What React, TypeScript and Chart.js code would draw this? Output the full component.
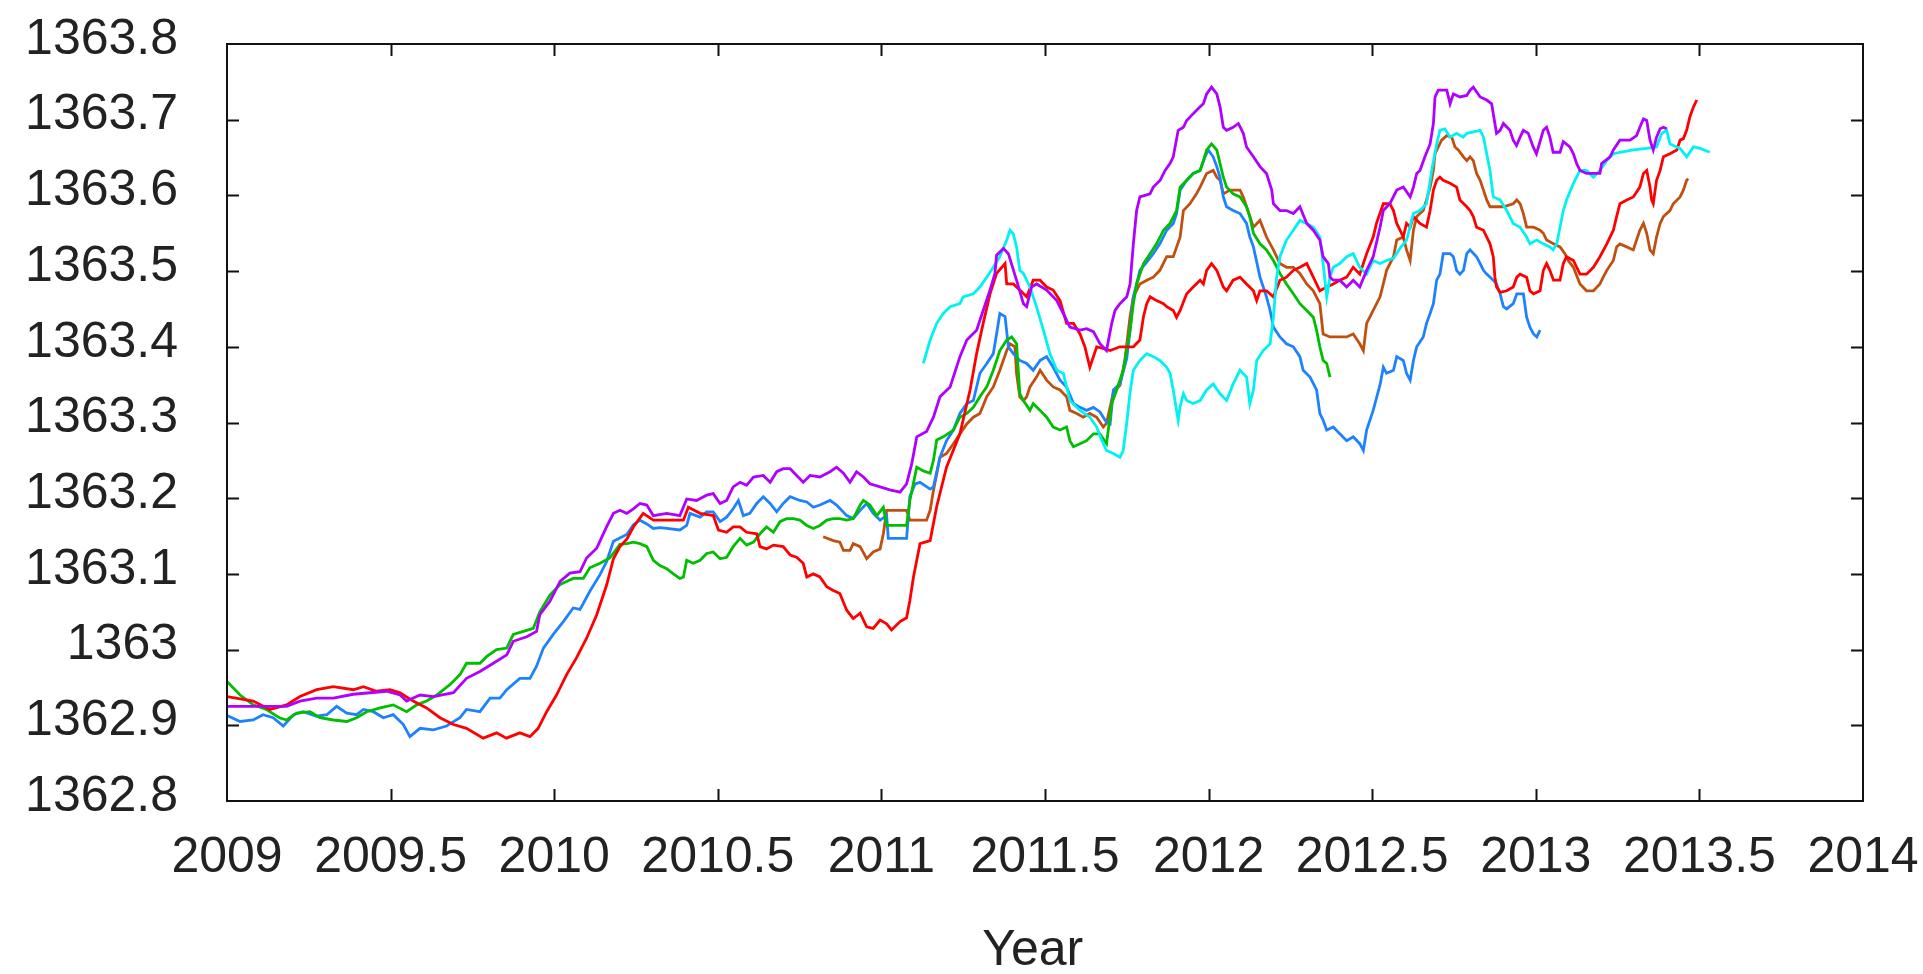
import React, { useEffect, useRef } from "react";
import { Chart, registerables } from "chart.js";

Chart.register(...registerables);

// [year, value] pairs for each series
const purple: [number, number][] = [
  [2009.0, 1362.925], [2009.08, 1362.925], [2009.182, 1362.925], [2009.223, 1362.932], [2009.274, 1362.936], [2009.325, 1362.936], [2009.386, 1362.941], [2009.437, 1362.943], [2009.488, 1362.945], [2009.529, 1362.94], [2009.549, 1362.932], [2009.569, 1362.936], [2009.59, 1362.94], [2009.631, 1362.938], [2009.692, 1362.943], [2009.732, 1362.962], [2009.773, 1362.971], [2009.814, 1362.982], [2009.855, 1362.993], [2009.875, 1363.011], [2009.916, 1363.017], [2009.946, 1363.024], [2009.956, 1363.046], [2009.987, 1363.064], [2010.018, 1363.09], [2010.048, 1363.101], [2010.079, 1363.103], [2010.099, 1363.121], [2010.13, 1363.134],
  [2010.16, 1363.162], [2010.181, 1363.18], [2010.201, 1363.184], [2010.222, 1363.18], [2010.242, 1363.186], [2010.262, 1363.193], [2010.283, 1363.191], [2010.303, 1363.177], [2010.344, 1363.18], [2010.384, 1363.177], [2010.405, 1363.199], [2010.435, 1363.197], [2010.466, 1363.204], [2010.486, 1363.206], [2010.507, 1363.193], [2010.527, 1363.197], [2010.547, 1363.215], [2010.568, 1363.221], [2010.588, 1363.217], [2010.609, 1363.228], [2010.639, 1363.23], [2010.66, 1363.221], [2010.68, 1363.235], [2010.7, 1363.239], [2010.721, 1363.239], [2010.741, 1363.23], [2010.761, 1363.221], [2010.782, 1363.23], [2010.812, 1363.228], [2010.843, 1363.235], [2010.863, 1363.241], [2010.884, 1363.233], [2010.904, 1363.221], [2010.924, 1363.235], [2010.945, 1363.228], [2010.965, 1363.219], [2010.996, 1363.215], [2011.026, 1363.211], [2011.057, 1363.208], [2011.077, 1363.219],
  [2011.093, 1363.246], [2011.108, 1363.281], [2011.138, 1363.288], [2011.159, 1363.307], [2011.179, 1363.334], [2011.21, 1363.347], [2011.24, 1363.387], [2011.261, 1363.409], [2011.291, 1363.422], [2011.311, 1363.448], [2011.332, 1363.475], [2011.347, 1363.497], [2011.352, 1363.521], [2011.373, 1363.53], [2011.388, 1363.523], [2011.413, 1363.488], [2011.434, 1363.457], [2011.444, 1363.453], [2011.459, 1363.479], [2011.474, 1363.483], [2011.505, 1363.475], [2011.536, 1363.461], [2011.556, 1363.444], [2011.576, 1363.426], [2011.607, 1363.422], [2011.627, 1363.424], [2011.648, 1363.42], [2011.668, 1363.404], [2011.688, 1363.395], [2011.704, 1363.431], [2011.714, 1363.448], [2011.729, 1363.457], [2011.75, 1363.466], [2011.76, 1363.483], [2011.77, 1363.536], [2011.78, 1363.58], [2011.79, 1363.598], [2011.821, 1363.602], [2011.831, 1363.611], [2011.852, 1363.62], [2011.867, 1363.633], [2011.882, 1363.642], [2011.892, 1363.651], [2011.907, 1363.686], [2011.923, 1363.69], [2011.933, 1363.699], [2011.953, 1363.708], [2011.974, 1363.717], [2011.984, 1363.721], [2011.994, 1363.734], [2012.009, 1363.743], [2012.025, 1363.734], [2012.035, 1363.717], [2012.045, 1363.69], [2012.055, 1363.686], [2012.075, 1363.69], [2012.091, 1363.695], [2012.106, 1363.682], [2012.116, 1363.664], [2012.137, 1363.651], [2012.157, 1363.638], [2012.177, 1363.629], [2012.193, 1363.607], [2012.198, 1363.589], [2012.218, 1363.58], [2012.238, 1363.58], [2012.259, 1363.576], [2012.279, 1363.585], [2012.3, 1363.563], [2012.32, 1363.554], [2012.34, 1363.541], [2012.35, 1363.519], [2012.366, 1363.51], [2012.371, 1363.492], [2012.381, 1363.488], [2012.401, 1363.488], [2012.422, 1363.479], [2012.442, 1363.488], [2012.462, 1363.479], [2012.483, 1363.501], [2012.503, 1363.519],
  [2012.524, 1363.558], [2012.534, 1363.58], [2012.554, 1363.589], [2012.575, 1363.607], [2012.595, 1363.611], [2012.616, 1363.598], [2012.626, 1363.611], [2012.636, 1363.629], [2012.646, 1363.633], [2012.661, 1363.651], [2012.677, 1363.668], [2012.687, 1363.695], [2012.692, 1363.73], [2012.702, 1363.739], [2012.728, 1363.739], [2012.738, 1363.721], [2012.748, 1363.734], [2012.768, 1363.73], [2012.789, 1363.732], [2012.799, 1363.739], [2012.809, 1363.743], [2012.83, 1363.73], [2012.85, 1363.726], [2012.865, 1363.721], [2012.875, 1363.695], [2012.88, 1363.682], [2012.891, 1363.686], [2012.901, 1363.695], [2012.921, 1363.686], [2012.931, 1363.673], [2012.941, 1363.666], [2012.952, 1363.677], [2012.962, 1363.686], [2012.977, 1363.682], [2012.992, 1363.664], [2013.002, 1363.655], [2013.023, 1363.686], [2013.033, 1363.69], [2013.043, 1363.677], [2013.053, 1363.657], [2013.074, 1363.657], [2013.084, 1363.671], [2013.104, 1363.664], [2013.115, 1363.655], [2013.125, 1363.642], [2013.135, 1363.633], [2013.155, 1363.629], [2013.196, 1363.629], [2013.201, 1363.642], [2013.227, 1363.651], [2013.237, 1363.66], [2013.257, 1363.673], [2013.288, 1363.673], [2013.308, 1363.679], [2013.318, 1363.69], [2013.329, 1363.701], [2013.339, 1363.699], [2013.349, 1363.673], [2013.359, 1363.66], [2013.369, 1363.677], [2013.38, 1363.688], [2013.39, 1363.69], [2013.4, 1363.688],
];

const red: [number, number][] = [
  [2009.0, 1362.938], [2009.08, 1362.932], [2009.131, 1362.921], [2009.182, 1362.927], [2009.223, 1362.938], [2009.274, 1362.947], [2009.325, 1362.951], [2009.386, 1362.947], [2009.417, 1362.951], [2009.457, 1362.945], [2009.498, 1362.947], [2009.529, 1362.943], [2009.569, 1362.932], [2009.61, 1362.923], [2009.651, 1362.91], [2009.692, 1362.901], [2009.732, 1362.896], [2009.783, 1362.883], [2009.824, 1362.89], [2009.854, 1362.883], [2009.895, 1362.89], [2009.926, 1362.885], [2009.951, 1362.896], [2009.977, 1362.918], [2010.007, 1362.94], [2010.038, 1362.967], [2010.068, 1362.989], [2010.099, 1363.015], [2010.13, 1363.046],
  [2010.16, 1363.085], [2010.181, 1363.12], [2010.201, 1363.136], [2010.222, 1363.146], [2010.242, 1363.162], [2010.272, 1363.18], [2010.303, 1363.171], [2010.344, 1363.171], [2010.395, 1363.171], [2010.41, 1363.188], [2010.446, 1363.18], [2010.486, 1363.177], [2010.502, 1363.158], [2010.527, 1363.155], [2010.547, 1363.162], [2010.568, 1363.162], [2010.588, 1363.155], [2010.619, 1363.153], [2010.629, 1363.136], [2010.649, 1363.133], [2010.67, 1363.138], [2010.7, 1363.136], [2010.721, 1363.125], [2010.741, 1363.122], [2010.761, 1363.114], [2010.772, 1363.096], [2010.792, 1363.1], [2010.812, 1363.096], [2010.833, 1363.083], [2010.853, 1363.078], [2010.873, 1363.074], [2010.894, 1363.052], [2010.914, 1363.041], [2010.935, 1363.048], [2010.955, 1363.03], [2010.975, 1363.028], [2010.996, 1363.039], [2011.016, 1363.034], [2011.031, 1363.026], [2011.057, 1363.037], [2011.077, 1363.042],
  [2011.087, 1363.065], [2011.098, 1363.096], [2011.118, 1363.14], [2011.149, 1363.144], [2011.169, 1363.189], [2011.199, 1363.241], [2011.24, 1363.285], [2011.271, 1363.343], [2011.291, 1363.391], [2011.311, 1363.431], [2011.332, 1363.47], [2011.352, 1363.497], [2011.378, 1363.51], [2011.383, 1363.483], [2011.403, 1363.483], [2011.423, 1363.475], [2011.444, 1363.466], [2011.464, 1363.488], [2011.485, 1363.488], [2011.505, 1363.479], [2011.525, 1363.475], [2011.546, 1363.461], [2011.566, 1363.431], [2011.587, 1363.431], [2011.607, 1363.417], [2011.622, 1363.4], [2011.637, 1363.373], [2011.658, 1363.4], [2011.678, 1363.398], [2011.699, 1363.395], [2011.729, 1363.4], [2011.77, 1363.4], [2011.79, 1363.409], [2011.801, 1363.44], [2011.811, 1363.457], [2011.821, 1363.466], [2011.841, 1363.461], [2011.862, 1363.457], [2011.872, 1363.453], [2011.892, 1363.448], [2011.902, 1363.439], [2011.913, 1363.448], [2011.933, 1363.47], [2011.953, 1363.479], [2011.974, 1363.488], [2011.984, 1363.483], [2011.994, 1363.501], [2012.009, 1363.51], [2012.025, 1363.501], [2012.045, 1363.479], [2012.055, 1363.474], [2012.075, 1363.488], [2012.096, 1363.492], [2012.116, 1363.483], [2012.137, 1363.474], [2012.147, 1363.461], [2012.157, 1363.474], [2012.177, 1363.474], [2012.198, 1363.466], [2012.218, 1363.488], [2012.238, 1363.492], [2012.259, 1363.501], [2012.279, 1363.505], [2012.3, 1363.51], [2012.32, 1363.492], [2012.34, 1363.474], [2012.361, 1363.479], [2012.381, 1363.483], [2012.401, 1363.488], [2012.422, 1363.492], [2012.442, 1363.505], [2012.462, 1363.496], [2012.483, 1363.523], [2012.503, 1363.545], [2012.513, 1363.563],
  [2012.534, 1363.589], [2012.554, 1363.589], [2012.565, 1363.58], [2012.575, 1363.563], [2012.585, 1363.554], [2012.595, 1363.545], [2012.605, 1363.563], [2012.616, 1363.558], [2012.626, 1363.572], [2012.646, 1363.563], [2012.666, 1363.558], [2012.677, 1363.58], [2012.687, 1363.607], [2012.697, 1363.62], [2012.707, 1363.624], [2012.717, 1363.62], [2012.738, 1363.616], [2012.758, 1363.611], [2012.768, 1363.594], [2012.789, 1363.585], [2012.799, 1363.58], [2012.809, 1363.572], [2012.819, 1363.558], [2012.84, 1363.554], [2012.85, 1363.545], [2012.86, 1363.536], [2012.87, 1363.519], [2012.875, 1363.492], [2012.88, 1363.479], [2012.891, 1363.472], [2012.911, 1363.474], [2012.931, 1363.479], [2012.942, 1363.492], [2012.952, 1363.496], [2012.972, 1363.492], [2012.982, 1363.474], [2012.993, 1363.47], [2013.013, 1363.474], [2013.023, 1363.501], [2013.033, 1363.51], [2013.043, 1363.501], [2013.054, 1363.488], [2013.074, 1363.488], [2013.084, 1363.51], [2013.094, 1363.519], [2013.115, 1363.514], [2013.135, 1363.496], [2013.155, 1363.496], [2013.176, 1363.505], [2013.196, 1363.519], [2013.217, 1363.536], [2013.237, 1363.554], [2013.247, 1363.572], [2013.257, 1363.589], [2013.278, 1363.594], [2013.298, 1363.598], [2013.318, 1363.611], [2013.329, 1363.629], [2013.339, 1363.633], [2013.349, 1363.611], [2013.354, 1363.594], [2013.359, 1363.589], [2013.369, 1363.62], [2013.38, 1363.633], [2013.39, 1363.651], [2013.41, 1363.655], [2013.431, 1363.66], [2013.441, 1363.673], [2013.451, 1363.675], [2013.461, 1363.686], [2013.471, 1363.704], [2013.482, 1363.717], [2013.492, 1363.726],
];

const green: [number, number][] = [
  [2009.0, 1362.958], [2009.04, 1362.94], [2009.08, 1362.927], [2009.12, 1362.921], [2009.16, 1362.91], [2009.182, 1362.907], [2009.213, 1362.916], [2009.254, 1362.918], [2009.284, 1362.91], [2009.325, 1362.907], [2009.366, 1362.905], [2009.396, 1362.91], [2009.427, 1362.918], [2009.468, 1362.923], [2009.508, 1362.927], [2009.549, 1362.918], [2009.58, 1362.927], [2009.61, 1362.932], [2009.641, 1362.94], [2009.682, 1362.954], [2009.712, 1362.967], [2009.732, 1362.982], [2009.773, 1362.982], [2009.794, 1362.991], [2009.824, 1363.0], [2009.855, 1363.002], [2009.875, 1363.02], [2009.906, 1363.024], [2009.936, 1363.028], [2009.956, 1363.05], [2009.987, 1363.072], [2010.018, 1363.086], [2010.058, 1363.094], [2010.089, 1363.094], [2010.109, 1363.108], [2010.14, 1363.114], [2010.17, 1363.121],
  [2010.201, 1363.139], [2010.222, 1363.14], [2010.242, 1363.142], [2010.262, 1363.14], [2010.283, 1363.136], [2010.303, 1363.118], [2010.323, 1363.111], [2010.344, 1363.107], [2010.364, 1363.1], [2010.384, 1363.094], [2010.395, 1363.096], [2010.405, 1363.118], [2010.425, 1363.114], [2010.446, 1363.118], [2010.466, 1363.127], [2010.486, 1363.129], [2010.507, 1363.12], [2010.527, 1363.122], [2010.547, 1363.136], [2010.568, 1363.147], [2010.588, 1363.138], [2010.609, 1363.142], [2010.629, 1363.153], [2010.649, 1363.162], [2010.67, 1363.155], [2010.69, 1363.169], [2010.71, 1363.173], [2010.731, 1363.173], [2010.751, 1363.171], [2010.772, 1363.164], [2010.792, 1363.16], [2010.812, 1363.164], [2010.833, 1363.171], [2010.853, 1363.173], [2010.873, 1363.173], [2010.894, 1363.171], [2010.914, 1363.173], [2010.935, 1363.191], [2010.945, 1363.197], [2010.965, 1363.191], [2010.986, 1363.177], [2011.006, 1363.188], [2011.016, 1363.164], [2011.077, 1363.164],
  [2011.087, 1363.197], [2011.108, 1363.241], [2011.128, 1363.236], [2011.149, 1363.233], [2011.159, 1363.25], [2011.169, 1363.277], [2011.189, 1363.281], [2011.22, 1363.29], [2011.24, 1363.307], [2011.261, 1363.312], [2011.281, 1363.32], [2011.301, 1363.334], [2011.322, 1363.347], [2011.342, 1363.369], [2011.362, 1363.395], [2011.383, 1363.409], [2011.398, 1363.413], [2011.413, 1363.404], [2011.423, 1363.338], [2011.434, 1363.329], [2011.454, 1363.316], [2011.464, 1363.325], [2011.485, 1363.316], [2011.505, 1363.307], [2011.525, 1363.294], [2011.546, 1363.29], [2011.566, 1363.294], [2011.576, 1363.276], [2011.587, 1363.268], [2011.607, 1363.272], [2011.627, 1363.276], [2011.648, 1363.285], [2011.668, 1363.285], [2011.688, 1363.272], [2011.704, 1363.325], [2011.719, 1363.343], [2011.739, 1363.369], [2011.76, 1363.422], [2011.77, 1363.457], [2011.78, 1363.483], [2011.801, 1363.51], [2011.821, 1363.523], [2011.841, 1363.536], [2011.862, 1363.554], [2011.882, 1363.563], [2011.902, 1363.58], [2011.913, 1363.611], [2011.933, 1363.62], [2011.953, 1363.629], [2011.974, 1363.633], [2011.984, 1363.646], [2011.994, 1363.66], [2012.009, 1363.668], [2012.025, 1363.66], [2012.035, 1363.642], [2012.045, 1363.624], [2012.055, 1363.611], [2012.075, 1363.602], [2012.096, 1363.598], [2012.116, 1363.585], [2012.126, 1363.572], [2012.137, 1363.55], [2012.157, 1363.536], [2012.177, 1363.528], [2012.198, 1363.514], [2012.218, 1363.497], [2012.238, 1363.483], [2012.259, 1363.47], [2012.279, 1363.457], [2012.3, 1363.448], [2012.32, 1363.439], [2012.33, 1363.422], [2012.34, 1363.4], [2012.35, 1363.382], [2012.361, 1363.378], [2012.371, 1363.36],
];

const blue: [number, number][] = [
  [2009.0, 1362.913], [2009.04, 1362.905], [2009.08, 1362.907], [2009.11, 1362.914], [2009.141, 1362.91], [2009.172, 1362.899], [2009.203, 1362.914], [2009.233, 1362.918], [2009.274, 1362.912], [2009.305, 1362.914], [2009.335, 1362.925], [2009.366, 1362.916], [2009.396, 1362.914], [2009.417, 1362.921], [2009.447, 1362.918], [2009.478, 1362.91], [2009.508, 1362.914], [2009.539, 1362.901], [2009.559, 1362.885], [2009.59, 1362.896], [2009.631, 1362.894], [2009.671, 1362.899], [2009.712, 1362.91], [2009.732, 1362.921], [2009.773, 1362.918], [2009.804, 1362.936], [2009.834, 1362.936], [2009.855, 1362.947], [2009.895, 1362.962], [2009.926, 1362.962], [2009.946, 1362.978], [2009.967, 1363.002], [2009.997, 1363.02], [2010.028, 1363.037], [2010.058, 1363.055], [2010.079, 1363.053], [2010.109, 1363.077], [2010.14, 1363.099], [2010.16, 1363.116], [2010.181, 1363.143], [2010.222, 1363.152], [2010.242, 1363.165], [2010.262, 1363.171], [2010.283, 1363.166], [2010.303, 1363.16], [2010.323, 1363.161], [2010.344, 1363.16], [2010.384, 1363.158], [2010.405, 1363.164], [2010.415, 1363.18], [2010.446, 1363.175], [2010.466, 1363.182], [2010.486, 1363.182], [2010.507, 1363.169], [2010.527, 1363.175], [2010.547, 1363.186], [2010.563, 1363.197], [2010.578, 1363.177], [2010.598, 1363.18], [2010.619, 1363.193], [2010.639, 1363.202], [2010.66, 1363.193], [2010.68, 1363.182], [2010.7, 1363.193], [2010.721, 1363.202], [2010.751, 1363.197], [2010.772, 1363.195], [2010.792, 1363.188], [2010.812, 1363.191], [2010.843, 1363.197], [2010.863, 1363.191], [2010.894, 1363.177], [2010.914, 1363.173], [2010.935, 1363.184], [2010.955, 1363.193], [2010.975, 1363.18], [2010.996, 1363.171], [2011.016, 1363.177], [2011.021, 1363.147], [2011.077, 1363.147],
  [2011.087, 1363.202], [2011.103, 1363.219], [2011.118, 1363.221], [2011.149, 1363.212], [2011.159, 1363.215], [2011.179, 1363.254], [2011.199, 1363.276], [2011.22, 1363.29], [2011.24, 1363.312], [2011.261, 1363.325], [2011.281, 1363.329], [2011.301, 1363.365], [2011.322, 1363.378], [2011.342, 1363.391], [2011.352, 1363.417], [2011.362, 1363.444], [2011.378, 1363.44], [2011.388, 1363.4], [2011.403, 1363.391], [2011.423, 1363.382], [2011.444, 1363.378], [2011.464, 1363.369], [2011.485, 1363.382], [2011.505, 1363.387], [2011.525, 1363.373], [2011.546, 1363.356], [2011.566, 1363.347], [2011.587, 1363.325], [2011.607, 1363.32], [2011.627, 1363.316], [2011.648, 1363.32], [2011.668, 1363.314], [2011.688, 1363.3], [2011.699, 1363.298], [2011.709, 1363.343], [2011.729, 1363.351], [2011.75, 1363.385], [2011.76, 1363.422], [2011.77, 1363.466], [2011.78, 1363.483], [2011.79, 1363.501], [2011.811, 1363.512], [2011.831, 1363.523], [2011.851, 1363.536], [2011.872, 1363.554], [2011.892, 1363.563], [2011.902, 1363.576], [2011.913, 1363.607], [2011.933, 1363.62], [2011.953, 1363.629], [2011.974, 1363.633], [2011.989, 1363.651], [2011.999, 1363.66], [2012.014, 1363.651], [2012.025, 1363.638], [2012.035, 1363.624], [2012.045, 1363.598], [2012.055, 1363.585], [2012.075, 1363.58], [2012.096, 1363.576], [2012.116, 1363.563], [2012.126, 1363.545], [2012.137, 1363.532], [2012.157, 1363.492], [2012.177, 1363.466], [2012.188, 1363.448], [2012.198, 1363.426], [2012.218, 1363.413], [2012.238, 1363.404], [2012.259, 1363.4], [2012.279, 1363.387], [2012.289, 1363.369], [2012.31, 1363.36], [2012.33, 1363.343], [2012.34, 1363.312], [2012.35, 1363.303], [2012.361, 1363.29], [2012.381, 1363.294], [2012.401, 1363.285], [2012.422, 1363.276], [2012.442, 1363.281], [2012.462, 1363.272], [2012.473, 1363.263], [2012.483, 1363.29], [2012.503, 1363.316], [2012.524, 1363.35],
  [2012.534, 1363.373], [2012.544, 1363.365], [2012.565, 1363.369], [2012.575, 1363.387], [2012.595, 1363.382], [2012.605, 1363.365], [2012.616, 1363.356], [2012.626, 1363.382], [2012.636, 1363.4], [2012.656, 1363.413], [2012.666, 1363.431], [2012.677, 1363.444], [2012.687, 1363.457], [2012.697, 1363.488], [2012.707, 1363.496], [2012.717, 1363.523], [2012.738, 1363.523], [2012.748, 1363.519], [2012.758, 1363.501], [2012.768, 1363.496], [2012.779, 1363.501], [2012.789, 1363.523], [2012.799, 1363.528], [2012.819, 1363.519], [2012.83, 1363.51], [2012.84, 1363.501], [2012.85, 1363.496], [2012.87, 1363.488], [2012.88, 1363.483], [2012.891, 1363.47], [2012.901, 1363.453], [2012.911, 1363.45], [2012.931, 1363.457], [2012.942, 1363.47], [2012.962, 1363.47], [2012.972, 1363.439], [2012.982, 1363.426], [2012.993, 1363.417], [2013.003, 1363.413], [2013.013, 1363.422],
];

const cyan: [number, number][] = [
  [2011.128, 1363.378], [2011.149, 1363.409], [2011.169, 1363.431], [2011.189, 1363.444], [2011.21, 1363.453], [2011.24, 1363.457], [2011.25, 1363.466], [2011.281, 1363.47], [2011.301, 1363.479], [2011.322, 1363.492], [2011.342, 1363.505], [2011.362, 1363.519], [2011.383, 1363.541], [2011.393, 1363.554], [2011.403, 1363.549], [2011.413, 1363.532], [2011.423, 1363.501], [2011.434, 1363.497], [2011.454, 1363.479], [2011.474, 1363.453], [2011.495, 1363.422], [2011.515, 1363.391], [2011.536, 1363.369], [2011.556, 1363.365], [2011.566, 1363.347], [2011.576, 1363.329], [2011.607, 1363.316], [2011.637, 1363.307], [2011.658, 1363.294], [2011.673, 1363.277], [2011.688, 1363.263], [2011.709, 1363.259], [2011.729, 1363.254], [2011.739, 1363.263], [2011.75, 1363.3], [2011.76, 1363.34], [2011.77, 1363.369], [2011.79, 1363.382], [2011.811, 1363.391], [2011.831, 1363.387], [2011.851, 1363.382], [2011.872, 1363.373], [2011.882, 1363.365], [2011.892, 1363.343], [2011.902, 1363.316], [2011.907, 1363.303], [2011.913, 1363.321], [2011.923, 1363.338], [2011.933, 1363.329], [2011.953, 1363.325], [2011.974, 1363.329], [2011.994, 1363.343], [2012.014, 1363.351], [2012.035, 1363.338], [2012.055, 1363.329], [2012.075, 1363.351], [2012.096, 1363.369], [2012.116, 1363.36], [2012.126, 1363.325], [2012.137, 1363.343], [2012.147, 1363.382], [2012.167, 1363.395], [2012.188, 1363.404], [2012.198, 1363.439], [2012.208, 1363.492], [2012.218, 1363.519], [2012.238, 1363.541], [2012.259, 1363.554], [2012.279, 1363.567], [2012.3, 1363.563], [2012.32, 1363.558], [2012.34, 1363.545], [2012.35, 1363.51], [2012.361, 1363.466], [2012.371, 1363.492], [2012.381, 1363.505], [2012.401, 1363.51], [2012.422, 1363.519], [2012.442, 1363.523], [2012.462, 1363.505], [2012.483, 1363.496], [2012.503, 1363.514], [2012.524, 1363.51], [2012.544, 1363.514], [2012.565, 1363.517], [2012.585, 1363.53], [2012.605, 1363.541], [2012.626, 1363.576], [2012.646, 1363.58], [2012.666, 1363.589], [2012.682, 1363.633], [2012.697, 1363.668], [2012.707, 1363.686], [2012.722, 1363.688], [2012.738, 1363.677], [2012.758, 1363.682], [2012.778, 1363.677], [2012.789, 1363.682], [2012.809, 1363.684], [2012.83, 1363.686], [2012.84, 1363.677], [2012.85, 1363.655], [2012.86, 1363.633], [2012.87, 1363.598], [2012.891, 1363.594], [2012.911, 1363.58], [2012.931, 1363.563], [2012.952, 1363.558], [2012.972, 1363.545], [2012.982, 1363.536], [2013.003, 1363.541], [2013.023, 1363.536], [2013.043, 1363.532], [2013.053, 1363.528], [2013.064, 1363.536], [2013.074, 1363.558], [2013.084, 1363.58], [2013.094, 1363.594], [2013.115, 1363.616], [2013.135, 1363.633], [2013.155, 1363.633], [2013.176, 1363.624], [2013.196, 1363.633], [2013.217, 1363.646], [2013.237, 1363.655], [2013.257, 1363.657], [2013.298, 1363.66], [2013.339, 1363.662], [2013.369, 1363.664], [2013.385, 1363.682], [2013.4, 1363.686], [2013.41, 1363.668], [2013.431, 1363.664], [2013.441, 1363.662], [2013.461, 1363.651], [2013.482, 1363.664], [2013.502, 1363.662], [2013.532, 1363.657],
];

const brown: [number, number][] = [
  [2010.822, 1363.149], [2010.853, 1363.144], [2010.873, 1363.142], [2010.884, 1363.131], [2010.904, 1363.131], [2010.914, 1363.14], [2010.935, 1363.136], [2010.955, 1363.12], [2010.975, 1363.129], [2010.996, 1363.133], [2011.006, 1363.153], [2011.016, 1363.184], [2011.077, 1363.184], [2011.087, 1363.171], [2011.138, 1363.171], [2011.149, 1363.184], [2011.159, 1363.21], [2011.179, 1363.254], [2011.199, 1363.259], [2011.22, 1363.272], [2011.24, 1363.285], [2011.261, 1363.298], [2011.281, 1363.307], [2011.301, 1363.312], [2011.322, 1363.334], [2011.342, 1363.347], [2011.362, 1363.369], [2011.383, 1363.395], [2011.393, 1363.404], [2011.408, 1363.4], [2011.413, 1363.365], [2011.423, 1363.334], [2011.434, 1363.329], [2011.444, 1363.334], [2011.454, 1363.347], [2011.474, 1363.36], [2011.485, 1363.369], [2011.505, 1363.356], [2011.525, 1363.347], [2011.546, 1363.343], [2011.566, 1363.334], [2011.576, 1363.316], [2011.597, 1363.312], [2011.617, 1363.307], [2011.637, 1363.312], [2011.658, 1363.307], [2011.678, 1363.294], [2011.688, 1363.299], [2011.709, 1363.34], [2011.729, 1363.349], [2011.744, 1363.382], [2011.76, 1363.44], [2011.77, 1363.466], [2011.79, 1363.483], [2011.811, 1363.488], [2011.831, 1363.492], [2011.851, 1363.501], [2011.872, 1363.519], [2011.892, 1363.519], [2011.913, 1363.545], [2011.923, 1363.58], [2011.943, 1363.589], [2011.963, 1363.602], [2011.974, 1363.611], [2011.994, 1363.629], [2012.014, 1363.633], [2012.025, 1363.624], [2012.035, 1363.62], [2012.045, 1363.602], [2012.065, 1363.607], [2012.096, 1363.607], [2012.106, 1363.598], [2012.116, 1363.585], [2012.137, 1363.558], [2012.157, 1363.567], [2012.177, 1363.545], [2012.198, 1363.528], [2012.218, 1363.51], [2012.238, 1363.505], [2012.259, 1363.505], [2012.279, 1363.497], [2012.3, 1363.483], [2012.32, 1363.474], [2012.34, 1363.457], [2012.35, 1363.417], [2012.371, 1363.413], [2012.401, 1363.413], [2012.422, 1363.413], [2012.442, 1363.417], [2012.462, 1363.404], [2012.473, 1363.395], [2012.483, 1363.431], [2012.503, 1363.448], [2012.524, 1363.466],
  [2012.534, 1363.483], [2012.544, 1363.501], [2012.565, 1363.519], [2012.575, 1363.541], [2012.595, 1363.545], [2012.605, 1363.528], [2012.616, 1363.514], [2012.626, 1363.554], [2012.636, 1363.572], [2012.646, 1363.576], [2012.656, 1363.58], [2012.666, 1363.594], [2012.677, 1363.611], [2012.687, 1363.633], [2012.692, 1363.655], [2012.702, 1363.664], [2012.712, 1363.673], [2012.728, 1363.679], [2012.743, 1363.677], [2012.753, 1363.664], [2012.763, 1363.66], [2012.779, 1363.651], [2012.789, 1363.646], [2012.799, 1363.651], [2012.809, 1363.646], [2012.819, 1363.629], [2012.83, 1363.62], [2012.84, 1363.607], [2012.85, 1363.594], [2012.86, 1363.585], [2012.901, 1363.585], [2012.931, 1363.589], [2012.942, 1363.594], [2012.952, 1363.589], [2012.962, 1363.576], [2012.972, 1363.558], [2012.993, 1363.558], [2013.013, 1363.554], [2013.023, 1363.55], [2013.033, 1363.541], [2013.054, 1363.536], [2013.074, 1363.532], [2013.089, 1363.523], [2013.099, 1363.514], [2013.115, 1363.505], [2013.135, 1363.483], [2013.155, 1363.474], [2013.176, 1363.474], [2013.196, 1363.483], [2013.206, 1363.492], [2013.217, 1363.501], [2013.237, 1363.514], [2013.247, 1363.532], [2013.257, 1363.536], [2013.278, 1363.532], [2013.298, 1363.528], [2013.308, 1363.541], [2013.318, 1363.554], [2013.329, 1363.563], [2013.339, 1363.55], [2013.349, 1363.528], [2013.359, 1363.523], [2013.369, 1363.545], [2013.38, 1363.563], [2013.39, 1363.572], [2013.41, 1363.58], [2013.42, 1363.589], [2013.441, 1363.598], [2013.451, 1363.607], [2013.461, 1363.62], [2013.466, 1363.622],
];

// axis ranges and tick steps
const xMin = 2009;
const xMax = 2014;
const xStep = 0.5;
const yMin = 1362.8;
const yMax = 1363.8;
const yStep = 0.1;
const xTitle = "Year";

const seriesList: { data: [number, number][]; color: string }[] = [
  { data: purple, color: "#b000ff" },
  { data: cyan, color: "#00f2f2" },
  { data: red, color: "#ff0000" },
  { data: green, color: "#00be00" },
  { data: blue, color: "#1e82ff" },
  { data: brown, color: "#c05010" },
];

const FONT = "'Liberation Sans', Arial, Helvetica, sans-serif";

// Box frame with short inward tick marks on all four sides, plus the x-axis title
const framePlugin = {
  id: "frameTicks",
  afterDatasetsDraw(chart: any) {
    const { ctx, chartArea } = chart;
    const { left, right, top, bottom } = chartArea;
    const xs = chart.scales.x;
    const ys = chart.scales.y;
    const len = 12;
    ctx.save();
    ctx.strokeStyle = "#111";
    ctx.lineWidth = 2;
    ctx.beginPath();
    for (let v = xMin + xStep; v < xMax - 1e-6; v += xStep) {
      const px = Math.round(xs.getPixelForValue(v)) + 0.5;
      ctx.moveTo(px, bottom);
      ctx.lineTo(px, bottom - len);
      ctx.moveTo(px, top);
      ctx.lineTo(px, top + len);
    }
    for (let v = yMin + yStep; v < yMax - 1e-6; v += yStep) {
      const py = Math.round(ys.getPixelForValue(v)) + 0.5;
      ctx.moveTo(left, py);
      ctx.lineTo(left + len, py);
      ctx.moveTo(right, py);
      ctx.lineTo(right - len, py);
    }
    ctx.stroke();
    ctx.strokeRect(left, top, right - left, bottom - top);

    ctx.fillStyle = "#222";
    ctx.font = `50px ${FONT}`;
    ctx.textAlign = "center";
    ctx.textBaseline = "middle";
    ctx.fillText(xTitle, left + (right - left) * 0.4925, bottom + 150);
    ctx.restore();
  },
};

export default function App() {
  const canvasRef = useRef<HTMLCanvasElement | null>(null);

  useEffect(() => {
    const canvas = canvasRef.current;
    if (!canvas) return;
    const chart = new Chart(canvas, {
      type: "line",
      data: {
        datasets: seriesList.map((s) => ({
          data: s.data.map(([x, y]) => ({ x, y })),
          borderColor: s.color,
          backgroundColor: s.color,
          borderWidth: 2.8,
          pointRadius: 0,
          tension: 0,
          fill: false,
        })),
      },
      options: {
        animation: false,
        responsive: false,
        devicePixelRatio: 1,
        parsing: false,
        layout: { padding: { top: 44, right: 60, left: 0, bottom: 0 } },
        plugins: {
          legend: { display: false },
          tooltip: { enabled: false },
        },
        scales: {
          x: {
            type: "linear",
            min: xMin,
            max: xMax,
            grid: { display: false, drawTicks: false },
            border: { display: false },
            ticks: {
              stepSize: xStep,
              padding: 27,
              color: "#222",
              maxRotation: 0,
              autoSkip: false,
              font: { family: FONT, size: 50 },
              callback: (v: any) => String(Math.round(Number(v) * 10) / 10),
            },
            afterFit: (s: any) => {
              s.height = 173;
              s.paddingLeft = 0;
              s.paddingRight = 0;
            },
          },
          y: {
            type: "linear",
            min: yMin,
            max: yMax,
            grid: { display: false, drawTicks: false },
            border: { display: false },
            ticks: {
              stepSize: yStep,
              padding: 49,
              labelOffset: -4,
              color: "#222",
              autoSkip: false,
              font: { family: FONT, size: 50 },
              callback: (v: any) => String(Math.round(Number(v) * 10) / 10),
            },
            afterFit: (s: any) => {
              s.width = 227;
              s.paddingTop = 0;
              s.paddingBottom = 0;
            },
          },
        },
      },
      plugins: [framePlugin],
    });
    return () => chart.destroy();
  }, []);

  return (
    <div style={{ position: "absolute", left: 0, top: 0, width: 1923, height: 974, background: "#fff" }}>
      <canvas ref={canvasRef} width={1923} height={974} style={{ display: "block" }} />
    </div>
  );
}
